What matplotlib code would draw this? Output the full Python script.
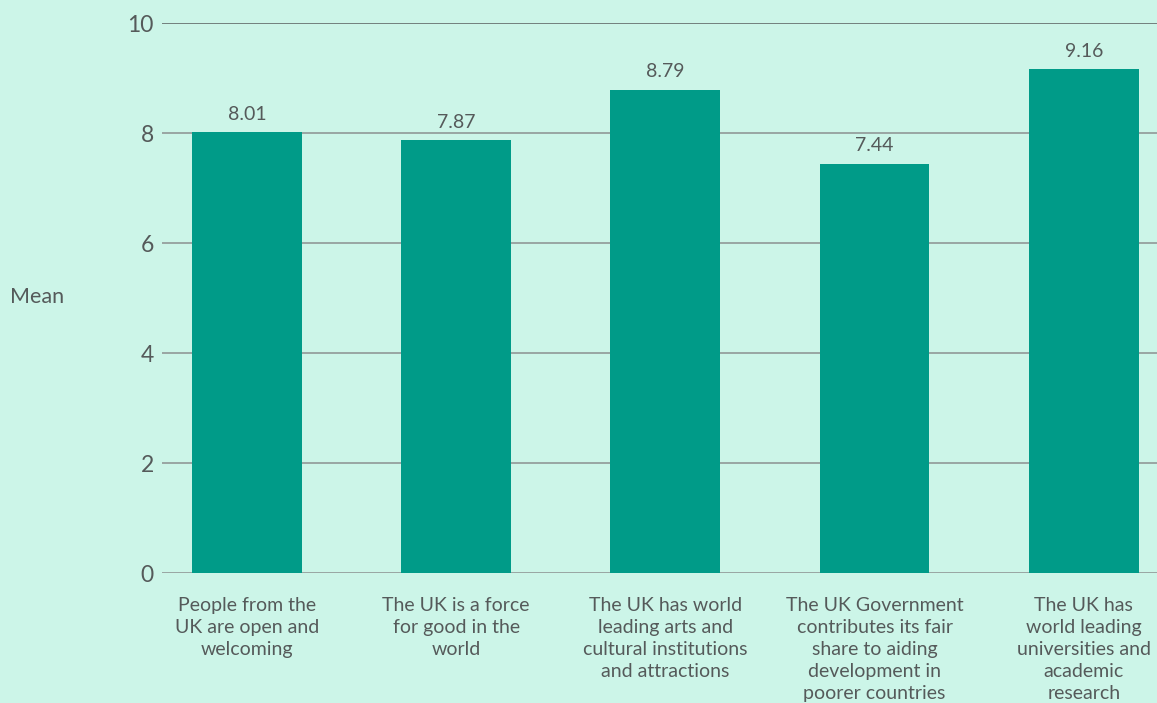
import matplotlib
matplotlib.use("Agg")
import matplotlib.pyplot as plt

categories = [
    "People from the\nUK are open and\nwelcoming",
    "The UK is a force\nfor good in the\nworld",
    "The UK has world\nleading arts and\ncultural institutions\nand attractions",
    "The UK Government\ncontributes its fair\nshare to aiding\ndevelopment in\npoorer countries",
    "The UK has\nworld leading\nuniversities and\nacademic\nresearch",
]
means = [8.01, 7.87, 8.79, 7.44, 9.16]
yticks = [0, 2, 4, 6, 8, 10]

BG = "#ccf5e8"
BAR = "#009b88"
TXT = "#555a5a"

plt.rcParams["font.family"] = ["Lato", "DejaVu Sans"]

fig = plt.figure(figsize=(11.57, 7.03), dpi=100, facecolor=BG)
W, H = 1157, 703
left, right, top, bottom = 162, 1157, 23, 573
ax = fig.add_axes([left / W, 1 - bottom / H, (right - left) / W, (bottom - top) / H])
ax.set_facecolor(BG)

x = list(range(len(categories)))
ax.bar(x, means, width=0.525, color=BAR, zorder=3)
for xi, v in zip(x, means):
    ax.text(xi, v + 0.17, f"{v:.2f}", ha="center", va="bottom",
            fontsize=14, color=TXT, zorder=4)

ax.set_ylim(0, 10)
ax.set_xlim(-0.406, 4.35)
ax.set_yticks(yticks)
ax.set_yticklabels([str(t) for t in yticks], fontsize=16.5, color=TXT)
for t in yticks:
    ax.axhline(t, color="#5a5f5f" if t == 10 else "#8c9090", lw=1.1, zorder=1)

ax.set_xticks(x)
ax.set_xticklabels(categories, fontsize=14, color=TXT, linespacing=1.36, va="top")
ax.tick_params(axis="both", length=0)
ax.tick_params(axis="x", pad=17)
ax.tick_params(axis="y", pad=6)
for s in ax.spines.values():
    s.set_visible(False)

fig.text(10 / W, 1 - 297 / H, "Mean", ha="left", va="center", fontsize=15.5, color=TXT)

fig.savefig("out.png", dpi=100, facecolor=BG)
